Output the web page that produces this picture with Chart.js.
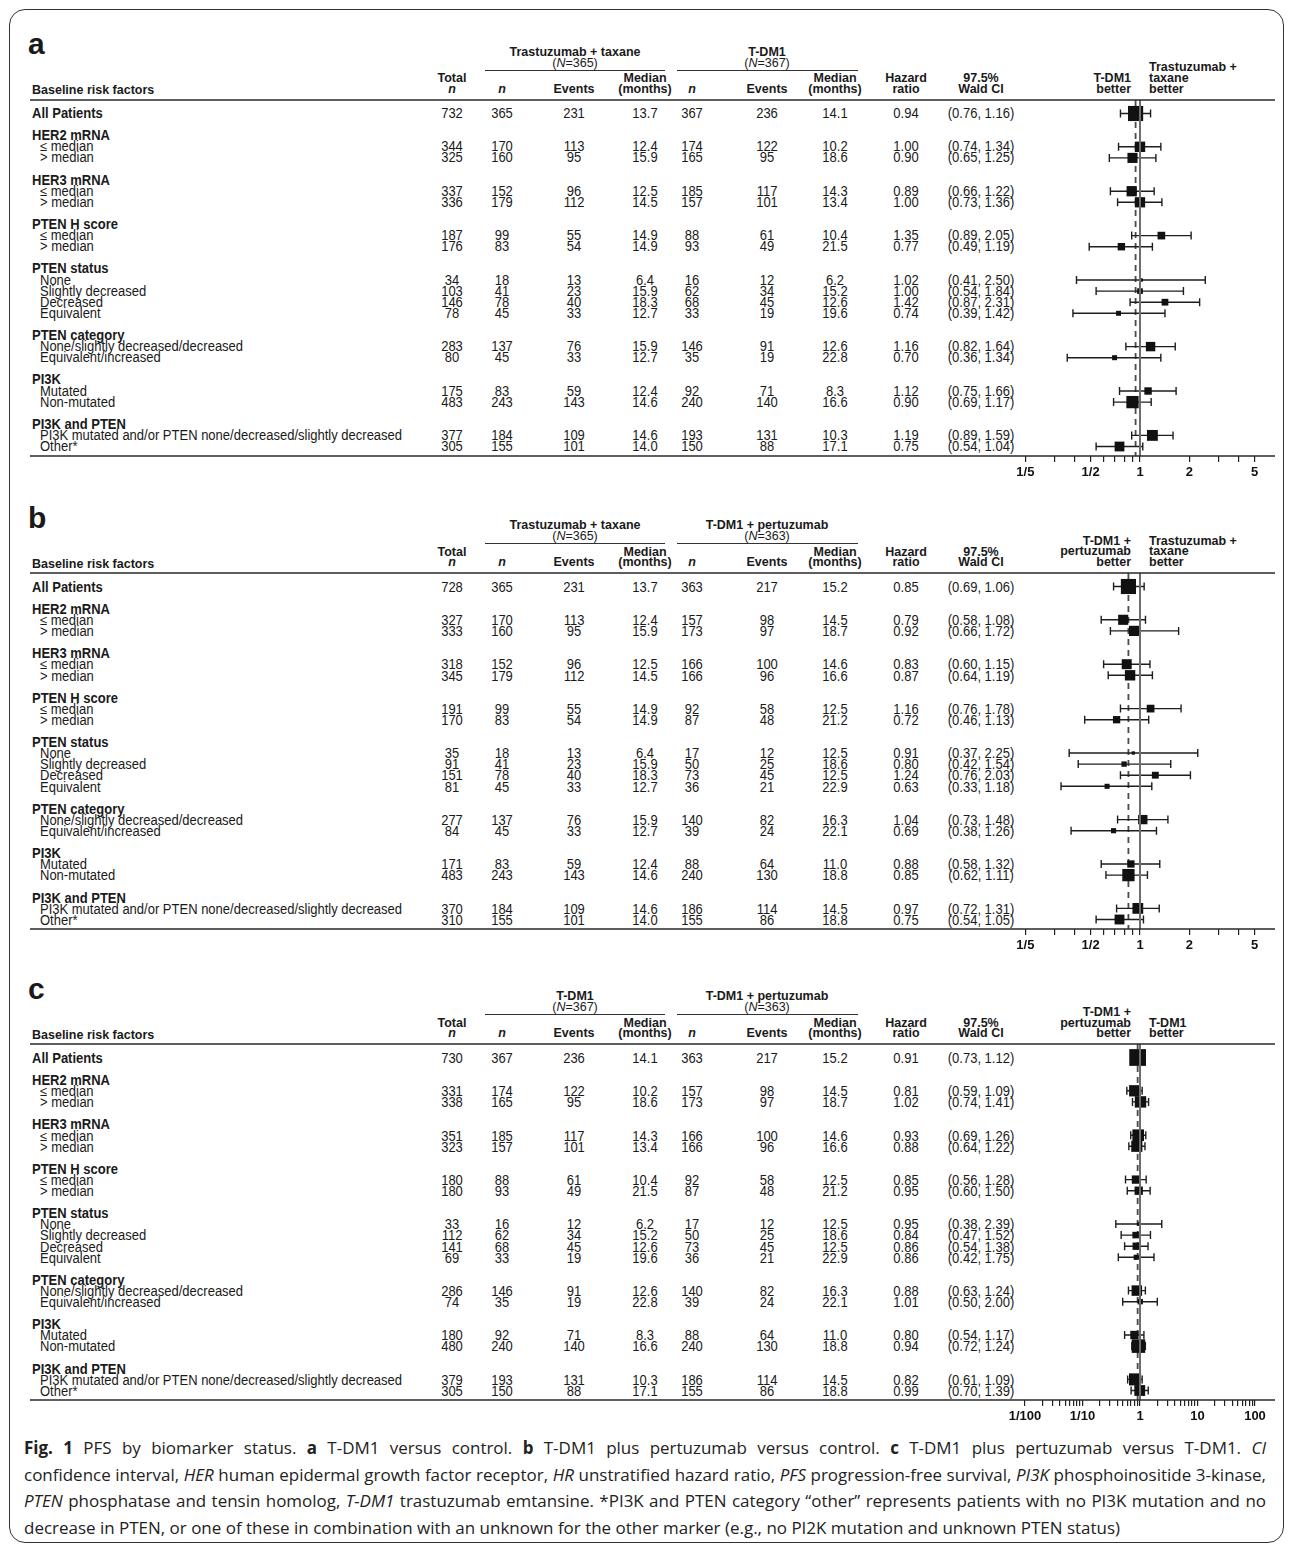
<!DOCTYPE html>
<html>
<head>
<meta charset="utf-8">
<script src="https://cdn.jsdelivr.net/npm/chart.js@4.4.0/dist/chart.umd.min.js"></script>
<style>
  html, body { margin: 0; padding: 0; background: #fff; }
  body { width: 1292px; height: 1544px; position: relative; overflow: hidden;
         font-family: 'Liberation Sans', Arial, Helvetica, sans-serif; color: #1a1a1a; }
  #frame { position: absolute; left: 9px; top: 9px; width: 1275px; height: 1534px;
           border: 1.5px solid #333; border-radius: 16px; box-sizing: border-box; }
  .t { position: absolute; white-space: nowrap; line-height: 1; font-size: 13px; }
  .h { font-size: 12.5px; font-weight: bold; }
  .b { font-weight: bold; }
  .i { font-style: italic; }
  .letter { font-size: 30px; font-weight: bold; }
  .uline { position: absolute; height: 0; border-top: 1.3px solid #333; }
  canvas { position: absolute; left: 0; }
  #caption { position: absolute; left: 24px; width: 1242px; top: 1435px;
             font-family: 'Open Sans', 'Noto Sans', sans-serif; font-size: 17px; color: #222; }
  #caption .line { height: 26.5px; line-height: 26.5px; white-space: nowrap; }
</style>
</head>
<body>
<div id="frame"></div>
<div id="caption"></div>
<script>
// ---- shared row structure ----
const ROW = 11.1;
const CATEGORIES = ['All Patients',
  '≤ median', '> median',
  '≤ median', '> median',
  '≤ median', '> median',
  'None', 'Slightly decreased', 'Decreased', 'Equivalent',
  'None/slightly decreased/decreased', 'Equivalent/increased',
  'Mutated', 'Non-mutated',
  'PI3K mutated and/or PTEN none/decreased/slightly decreased', 'Other*'];
const GROUP_HEADINGS = ['HER2 mRNA', 'HER3 mRNA', 'PTEN H score', 'PTEN status', 'PTEN category', 'PI3K', 'PI3K and PTEN'];
const GROUP_SIZES = [2, 2, 2, 4, 2, 2, 2];

// ---- panel a: T-DM1 versus trastuzumab + taxane ----
const A_TOTAL = [732, 344, 325, 337, 336, 187, 176, 34, 103, 146, 78, 283, 80, 175, 483, 377, 305];
const A_N1    = [365, 170, 160, 152, 179, 99, 83, 18, 41, 78, 45, 137, 45, 83, 243, 184, 155];
const A_EV1   = [231, 113, 95, 96, 112, 55, 54, 13, 23, 40, 33, 76, 33, 59, 143, 109, 101];
const A_MED1  = [13.7, 12.4, 15.9, 12.5, 14.5, 14.9, 14.9, 6.4, 15.9, 18.3, 12.7, 15.9, 12.7, 12.4, 14.6, 14.6, 14.0];
const A_N2    = [367, 174, 165, 185, 157, 88, 93, 16, 62, 68, 33, 146, 35, 92, 240, 193, 150];
const A_EV2   = [236, 122, 95, 117, 101, 61, 49, 12, 34, 45, 19, 91, 19, 71, 140, 131, 88];
const A_MED2  = [14.1, 10.2, 18.6, 14.3, 13.4, 10.4, 21.5, 6.2, 15.2, 12.6, 19.6, 12.6, 22.8, 8.3, 16.6, 10.3, 17.1];
const A_HR    = [0.94, 1.00, 0.90, 0.89, 1.00, 1.35, 0.77, 1.02, 1.00, 1.42, 0.74, 1.16, 0.70, 1.12, 0.90, 1.19, 0.75];
const A_LO    = [0.76, 0.74, 0.65, 0.66, 0.73, 0.89, 0.49, 0.41, 0.54, 0.87, 0.39, 0.82, 0.36, 0.75, 0.69, 0.89, 0.54];
const A_HI    = [1.16, 1.34, 1.25, 1.22, 1.36, 2.05, 1.19, 2.50, 1.84, 2.31, 1.42, 1.64, 1.34, 1.66, 1.17, 1.59, 1.04];

// ---- panel b: T-DM1 + pertuzumab versus trastuzumab + taxane ----
const B_TOTAL = [728, 327, 333, 318, 345, 191, 170, 35, 91, 151, 81, 277, 84, 171, 483, 370, 310];
const B_N1    = [365, 170, 160, 152, 179, 99, 83, 18, 41, 78, 45, 137, 45, 83, 243, 184, 155];
const B_EV1   = [231, 113, 95, 96, 112, 55, 54, 13, 23, 40, 33, 76, 33, 59, 143, 109, 101];
const B_MED1  = [13.7, 12.4, 15.9, 12.5, 14.5, 14.9, 14.9, 6.4, 15.9, 18.3, 12.7, 15.9, 12.7, 12.4, 14.6, 14.6, 14.0];
const B_N2    = [363, 157, 173, 166, 166, 92, 87, 17, 50, 73, 36, 140, 39, 88, 240, 186, 155];
const B_EV2   = [217, 98, 97, 100, 96, 58, 48, 12, 25, 45, 21, 82, 24, 64, 130, 114, 86];
const B_MED2  = [15.2, 14.5, 18.7, 14.6, 16.6, 12.5, 21.2, 12.5, 18.6, 12.5, 22.9, 16.3, 22.1, 11.0, 18.8, 14.5, 18.8];
const B_HR    = [0.85, 0.79, 0.92, 0.83, 0.87, 1.16, 0.72, 0.91, 0.80, 1.24, 0.63, 1.04, 0.69, 0.88, 0.85, 0.97, 0.75];
const B_LO    = [0.69, 0.58, 0.66, 0.60, 0.64, 0.76, 0.46, 0.37, 0.42, 0.76, 0.33, 0.73, 0.38, 0.58, 0.62, 0.72, 0.54];
const B_HI    = [1.06, 1.08, 1.72, 1.15, 1.19, 1.78, 1.13, 2.25, 1.54, 2.03, 1.18, 1.48, 1.26, 1.32, 1.11, 1.31, 1.05];

// ---- panel c: T-DM1 + pertuzumab versus T-DM1 ----
const C_TOTAL = [730, 331, 338, 351, 323, 180, 180, 33, 112, 141, 69, 286, 74, 180, 480, 379, 305];
const C_N1    = [367, 174, 165, 185, 157, 88, 93, 16, 62, 68, 33, 146, 35, 92, 240, 193, 150];
const C_EV1   = [236, 122, 95, 117, 101, 61, 49, 12, 34, 45, 19, 91, 19, 71, 140, 131, 88];
const C_MED1  = [14.1, 10.2, 18.6, 14.3, 13.4, 10.4, 21.5, 6.2, 15.2, 12.6, 19.6, 12.6, 22.8, 8.3, 16.6, 10.3, 17.1];
const C_N2    = [363, 157, 173, 166, 166, 92, 87, 17, 50, 73, 36, 140, 39, 88, 240, 186, 155];
const C_EV2   = [217, 98, 97, 100, 96, 58, 48, 12, 25, 45, 21, 82, 24, 64, 130, 114, 86];
const C_MED2  = [15.2, 14.5, 18.7, 14.6, 16.6, 12.5, 21.2, 12.5, 18.6, 12.5, 22.9, 16.3, 22.1, 11.0, 18.8, 14.5, 18.8];
const C_HR    = [0.91, 0.81, 1.02, 0.93, 0.88, 0.85, 0.95, 0.95, 0.84, 0.86, 0.86, 0.88, 1.01, 0.80, 0.94, 0.82, 0.99];
const C_LO    = [0.73, 0.59, 0.74, 0.69, 0.64, 0.56, 0.60, 0.38, 0.47, 0.54, 0.42, 0.63, 0.50, 0.54, 0.72, 0.61, 0.70];
const C_HI    = [1.12, 1.09, 1.41, 1.26, 1.22, 1.28, 1.50, 2.39, 1.52, 1.38, 1.75, 1.24, 2.00, 1.17, 1.24, 1.09, 1.39];

// ---- hazard-ratio axes ----
const TICKS_AB = [0.2, 0.3, 0.4, 0.5, 0.6, 0.7, 0.8, 0.9, 1, 2, 3, 4, 5];
const TICK_LABELS_AB = ['1/5', '', '', '1/2', '', '', '', '', '1', '2', '', '', '5'];
const TICKS_C = [0.01, 0.02, 0.03, 0.04, 0.05, 0.06, 0.07, 0.08, 0.09,
                 0.1, 0.2, 0.3, 0.4, 0.5, 0.6, 0.7, 0.8, 0.9,
                 1, 2, 3, 4, 5, 6, 7, 8, 9,
                 10, 20, 30, 40, 50, 60, 70, 80, 90, 100];
const TICK_LABELS_C = ['1/100', '', '', '', '', '', '', '', '',
                       '1/10', '', '', '', '', '', '', '', '',
                       '1', '', '', '', '', '', '', '', '',
                       '10', '', '', '', '', '', '', '', '', '100'];

// ---- layout ----
const FONT = "'Liberation Sans', Arial, Helvetica, sans-serif";
const COL_X = [452, 502, 574, 645, 692, 767, 835, 906, 981];
const PLOT_LEFT = 1000, PLOT_RIGHT = 1275, ONE_X = 1140;

// row positions (in row units) of every category line and heading
const ROW_POS = [0];
const HEAD_POS = [];
(function () {
  let r = 0;
  GROUP_SIZES.forEach(n => {
    r += 2; HEAD_POS.push(r);
    for (let k = 0; k < n; k++) { r += 1; ROW_POS.push(r); }
  });
})();
const LAST_ROW = ROW_POS[ROW_POS.length - 1];

const PANELS = [
  { letter: 'a', y0: 113, pxPerDecade: 164, k: 0.56,
    arms: ['Trastuzumab + taxane', 'T-DM1'], armN: [365, 367],
    left: ['T-DM1', 'better'], right: ['Trastuzumab +', 'taxane', 'better'],
    ticks: TICKS_AB, tickLabels: TICK_LABELS_AB,
    total: A_TOTAL, n1: A_N1, ev1: A_EV1, med1: A_MED1, n2: A_N2, ev2: A_EV2, med2: A_MED2,
    hr: A_HR, lo: A_LO, hi: A_HI },
  { letter: 'b', y0: 586.7, pxPerDecade: 164, k: 0.56,
    arms: ['Trastuzumab + taxane', 'T-DM1 + pertuzumab'], armN: [365, 363],
    left: ['T-DM1 +', 'pertuzumab', 'better'], right: ['Trastuzumab +', 'taxane', 'better'],
    ticks: TICKS_AB, tickLabels: TICK_LABELS_AB,
    total: B_TOTAL, n1: B_N1, ev1: B_EV1, med1: B_MED1, n2: B_N2, ev2: B_EV2, med2: B_MED2,
    hr: B_HR, lo: B_LO, hi: B_HI },
  { letter: 'c', y0: 1057.8, pxPerDecade: 57.5, k: 0.62,
    arms: ['T-DM1', 'T-DM1 + pertuzumab'], armN: [367, 363],
    left: ['T-DM1 +', 'pertuzumab', 'better'], right: ['T-DM1', 'better'],
    ticks: TICKS_C, tickLabels: TICK_LABELS_C,
    total: C_TOTAL, n1: C_N1, ev1: C_EV1, med1: C_MED1, n2: C_N2, ev2: C_EV2, med2: C_MED2,
    hr: C_HR, lo: C_LO, hi: C_HI }
];

function put(x, y, html, cls, align, sy) {
  const d = document.createElement('div');
  d.className = 't ' + (cls || '');
  d.innerHTML = html;
  d.style.left = x + 'px';
  d.style.top = y + 'px';
  const tx = align === 'c' ? '-50%' : align === 'r' ? '-100%' : '0';
  d.style.transform = `translate(${tx}, -50%)` + (sy ? ` scaleY(${sy})` : '');
  document.body.appendChild(d);
  return d;
}
function uline(x1, x2, y) {
  const d = document.createElement('div');
  d.className = 'uline';
  d.style.left = x1 + 'px'; d.style.width = (x2 - x1) + 'px'; d.style.top = y + 'px';
  document.body.appendChild(d);
}

function drawTable(p) {
  const y0 = p.y0;
  put(28, y0 - 69, p.letter, 'letter', 'l');
  // treatment arm headings
  const armX = [575, 767];
  p.arms.forEach((a, i) => {
    put(armX[i], y0 - 61.5, a, 'h', 'c');
    put(armX[i], y0 - 50.5, `(<span class="i">N</span>=${p.armN[i]})`, '', 'c').style.fontSize = '12.5px';
  });
  uline(485, 665, y0 - 43.5);
  uline(677, 858, y0 - 43.5);
  // column headings
  const top = y0 - 35, bot = y0 - 24.5;
  put(COL_X[0], top, 'Total', 'h', 'c'); put(COL_X[0], bot, 'n', 'h i', 'c');
  put(COL_X[1], bot, 'n', 'h i', 'c');
  put(COL_X[2], bot, 'Events', 'h', 'c');
  put(COL_X[3], top, 'Median', 'h', 'c'); put(COL_X[3], bot, '(months)', 'h', 'c');
  put(COL_X[4], bot, 'n', 'h i', 'c');
  put(COL_X[5], bot, 'Events', 'h', 'c');
  put(COL_X[6], top, 'Median', 'h', 'c'); put(COL_X[6], bot, '(months)', 'h', 'c');
  put(COL_X[7], top, 'Hazard', 'h', 'c'); put(COL_X[7], bot, 'ratio', 'h', 'c');
  put(COL_X[8], top, '97.5%', 'h', 'c'); put(COL_X[8], bot, 'Wald CI', 'h', 'c');
  put(32, y0 - 23, 'Baseline risk factors', 'h', 'l');
  // favouring labels above the plot
  p.left.forEach((s, i) => put(1131, bot - (p.left.length - 1 - i) * 10.8, s, 'h', 'r'));
  p.right.forEach((s, i) => put(1149, bot - (p.right.length - 1 - i) * 10.8, s, 'h', 'l'));
  // group headings
  GROUP_HEADINGS.forEach((g, i) => put(32, y0 + HEAD_POS[i] * ROW, g, 'b', 'l', 1.06));
  // category rows
  CATEGORIES.forEach((c, i) => {
    const y = y0 + ROW_POS[i] * ROW;
    put(i === 0 ? 32 : 40, y, c, i === 0 ? 'b' : '', 'l', 1.06);
    const vals = [p.total[i], p.n1[i], p.ev1[i], p.med1[i].toFixed(1), p.n2[i], p.ev2[i],
                  p.med2[i].toFixed(1), p.hr[i].toFixed(2),
                  `(${p.lo[i].toFixed(2)}, ${p.hi[i].toFixed(2)})`];
    vals.forEach((v, j) => put(COL_X[j], y, String(v), '', 'c', 1.1));
  });
}

function forestPlugin(p) {
  return {
    id: 'forest',
    beforeDatasetsDraw(chart) {
      const { ctx, chartArea, scales: { x, y } } = chart;
      ctx.save();
      // overall hazard ratio reference
      const xd = x.getPixelForValue(p.hr[0]);
      ctx.strokeStyle = '#4a4a4a'; ctx.lineWidth = 1.8; ctx.setLineDash([6, 5]);
      ctx.beginPath(); ctx.moveTo(xd, chartArea.top); ctx.lineTo(xd, chartArea.bottom); ctx.stroke();
      ctx.setLineDash([]);
      // confidence intervals with end caps
      ctx.strokeStyle = '#1e1e1e'; ctx.lineWidth = 1.4;
      p.hr.forEach((v, i) => {
        const yy = y.getPixelForValue(ROW_POS[i]);
        const x1 = x.getPixelForValue(p.lo[i]), x2 = x.getPixelForValue(p.hi[i]);
        ctx.beginPath();
        ctx.moveTo(x1, yy); ctx.lineTo(x2, yy);
        ctx.moveTo(x1, yy - 4); ctx.lineTo(x1, yy + 4);
        ctx.moveTo(x2, yy - 4); ctx.lineTo(x2, yy + 4);
        ctx.stroke();
      });
      ctx.restore();
    },
    afterDatasetsDraw(chart) {
      const { ctx, chartArea, scales: { x } } = chart;
      ctx.save();
      const x1 = x.getPixelForValue(1);
      ctx.strokeStyle = '#6e6e6e'; ctx.lineWidth = 2;
      ctx.beginPath(); ctx.moveTo(x1, chartArea.top); ctx.lineTo(x1, chartArea.bottom); ctx.stroke();
      // table rules (header rule and bottom rule / axis line)
      ctx.strokeStyle = '#2a2a2a'; ctx.lineWidth = 1.5;
      ctx.beginPath();
      ctx.moveTo(30, chartArea.top); ctx.lineTo(PLOT_RIGHT, chartArea.top);
      ctx.moveTo(30, chartArea.bottom); ctx.lineTo(PLOT_RIGHT, chartArea.bottom);
      ctx.stroke();
      ctx.restore();
    }
  };
}

function drawPlot(p) {
  const ruleY = p.y0 - 13.5;
  const H = LAST_ROW * ROW + 23;
  const AXIS_H = 32, PAD_TOP = 2;
  const canvas = document.createElement('canvas');
  canvas.width = 1292; canvas.height = PAD_TOP + H + AXIS_H;
  canvas.style.top = (ruleY - PAD_TOP) + 'px';
  document.body.appendChild(canvas);
  const xmin = Math.pow(10, (PLOT_LEFT - ONE_X) / p.pxPerDecade);
  const xmax = Math.pow(10, (PLOT_RIGHT - ONE_X) / p.pxPerDecade);
  const yMin = -13.5 / ROW, yMax = yMin + H / ROW;
  new Chart(canvas, {
    type: 'scatter',
    data: {
      datasets: [{
        data: p.hr.map((v, i) => ({ x: v, y: ROW_POS[i] })),
        pointStyle: 'rect',
        pointRadius: ctx => p.k * Math.sqrt(p.total[ctx.dataIndex]) / Math.SQRT2,
        backgroundColor: '#111',
        borderWidth: 0
      }]
    },
    options: {
      responsive: false, animation: false, events: [],
      layout: { autoPadding: false, padding: { left: PLOT_LEFT, right: 1292 - PLOT_RIGHT, top: PAD_TOP, bottom: 0 } },
      plugins: { legend: { display: false }, tooltip: { enabled: false } },
      scales: {
        x: {
          type: 'logarithmic', min: xmin, max: xmax, bounds: 'data',
          afterBuildTicks: s => { s.ticks = p.ticks.map(v => ({ value: v })); },
          afterFit: s => { s.height = AXIS_H; },
          grid: { display: true, drawOnChartArea: false, drawTicks: true, tickLength: 6, color: '#222', lineWidth: 1.2 },
          border: { display: false },
          ticks: { autoSkip: false, maxRotation: 0, minRotation: 0, padding: 3, color: '#111',
                   font: { family: FONT, size: 13, weight: 'bold' },
                   callback: (v, i) => p.tickLabels[i] }
        },
        y: { type: 'linear', display: false, reverse: true, min: yMin, max: yMax }
      }
    },
    plugins: [forestPlugin(p)]
  });
}

PANELS.forEach(p => { drawTable(p); drawPlot(p); });

// ---- figure caption ----
const CAPTION = [
  [['b', 'Fig. 1'], ['', ' PFS by biomarker status. '], ['b', 'a'], ['', ' T-DM1 versus control. '], ['b', 'b'],
   ['', ' T-DM1 plus pertuzumab versus control. '], ['b', 'c'], ['', ' T-DM1 plus pertuzumab versus T-DM1. '], ['i', 'CI']],
  [['', 'confidence interval, '], ['i', 'HER'], ['', ' human epidermal growth factor receptor, '], ['i', 'HR'],
   ['', ' unstratified hazard ratio, '], ['i', 'PFS'], ['', ' progression-free survival, '], ['i', 'PI3K'],
   ['', ' phosphoinositide 3-kinase,']],
  [['i', 'PTEN'], ['', ' phosphatase and tensin homolog, '], ['i', 'T-DM1'],
   ['', ' trastuzumab emtansine. *PI3K and PTEN category \u201cother\u201d represents patients with no PI3K mutation and no']],
  [['', 'decrease in PTEN, or one of these in combination with an unknown for the other marker (e.g., no PI2K mutation and unknown PTEN status)']]
];
const cap = document.getElementById('caption');
const lines = CAPTION.map(parts => {
  const line = document.createElement('div');
  line.className = 'line';
  const inner = document.createElement('span');
  parts.forEach(([st, txt]) => {
    const s = document.createElement('span');
    if (st === 'b') s.style.fontWeight = 'bold';
    if (st === 'i') s.style.fontStyle = 'italic';
    s.textContent = txt;
    inner.appendChild(s);
  });
  line.appendChild(inner);
  cap.appendChild(line);
  return { line, inner, text: parts.map(q => q[1]).join('') };
});
// fit the widest caption line to the box, then justify all but the last line
function justify() {
  const W = cap.clientWidth;
  let fs = 17;
  cap.style.fontSize = fs + 'px';
  lines.forEach(l => l.line.style.wordSpacing = '0px');
  const widest = Math.max(...lines.map(l => l.inner.getBoundingClientRect().width));
  if (widest > W - 2) { fs = fs * (W - 2) / widest; cap.style.fontSize = fs + 'px'; }
  lines.forEach((l, i) => {
    if (i === lines.length - 1) return;
    const w = l.inner.getBoundingClientRect().width;
    const spaces = (l.text.match(/ /g) || []).length;
    l.line.style.wordSpacing = ((W - w) / spaces) + 'px';
  });
}
justify();
if (document.fonts && document.fonts.ready) document.fonts.ready.then(justify);
</script>
</body>
</html>
